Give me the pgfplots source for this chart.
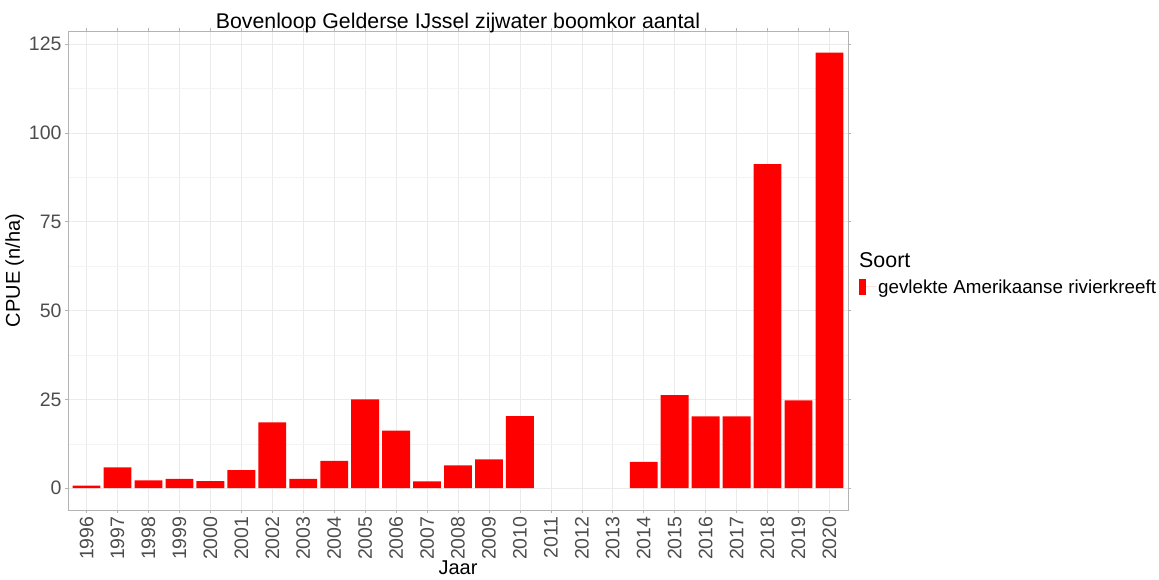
\documentclass[border=0pt]{standalone}
\usepackage{pgfplots}
\pgfplotsset{compat=1.18}
\usepackage{fontspec}
\setmainfont{Liberation Sans}
\definecolor{tickgray}{HTML}{4D4D4D}
\definecolor{gridmaj}{HTML}{EBEBEB}
\definecolor{gridmin}{HTML}{F4F4F4}
\definecolor{bordergray}{HTML}{B3B3B3}
\begin{document}
\begin{tikzpicture}
\begin{axis}[
  scale only axis,
  width=780pt, height=479pt,
  xmin=-0.6, xmax=24.6,
  ymin=-6.13, ymax=128.7,
  clip mode=individual,
  xtick={0,1,2,3,4,5,6,7,8,9,10,11,12,13,14,15,16,17,18,19,20,21,22,23,24},
  xticklabels={1996,1997,1998,1999,2000,2001,2002,2003,2004,2005,2006,2007,2008,2009,2010,2011,2012,2013,2014,2015,2016,2017,2018,2019,2020},
  x tick label style={rotate=90, anchor=east, font=\fontsize{19.5}{19.5}\selectfont, text=tickgray},
  ytick={0,25,50,75,100,125},
  minor ytick={12.5,37.5,62.5,87.5,112.5},
  y tick label style={font=\fontsize{19.5}{19.5}\selectfont, text=tickgray},
  /pgf/number format/assume math mode=true,
  tick align=outside,
  major tick length=3pt,
  minor tick length=0pt,
  tick style={bordergray, line width=0.6pt},
  axis line style={bordergray, line width=0.8pt},
  xmajorgrids, ymajorgrids, yminorgrids,
  major grid style={gridmaj, line width=0.6pt},
  minor grid style={gridmin, line width=0.4pt},
  title={Bovenloop Gelderse IJssel zijwater boomkor aantal},
  title style={font=\fontsize{21.3}{21.3}\selectfont, yshift=-11pt},
  xlabel={Jaar},
  ylabel={CPUE (n/ha)},
  xlabel style={font=\fontsize{20}{20}\selectfont, yshift=6pt},
  ylabel style={font=\fontsize{20}{20}\selectfont, yshift=-2pt},
  legend style={at={(1.014,0.4656)}, anchor=west, draw=none, fill=none,
    font=\fontsize{18.8}{18.8}\selectfont, inner sep=0pt, row sep=0pt},
  legend cell align=left,
  legend image code/.code={\fill[red] (0pt,-8pt) rectangle (7pt,8pt); \path (0pt,0pt) -- (17pt,0pt);},
]
\addplot[ybar, bar width=0.9, fill=red, draw=none, bar shift=0] coordinates {
 (0,0.7) (1,5.9) (2,2.2) (3,2.65) (4,2.0) (5,5.1) (6,18.5) (7,2.65) (8,7.7)
 (9,25.0) (10,16.2) (11,1.9) (12,6.4) (13,8.1) (14,20.3)
 (18,7.4) (19,26.2) (20,20.2) (21,20.2) (22,91.2) (23,24.7) (24,122.6)
};
\addlegendentry{gevlekte Amerikaanse rivierkreeft}
\node[anchor=base west, font=\fontsize{21.4}{21.4}\selectfont, inner sep=0pt] at (rel axis cs:1.0141,0.5073) {Soort};
\end{axis}
\path[use as bounding box] ([shift={(-68pt,-70pt)}]current axis.south west) rectangle ([shift={(311pt,31pt)}]current axis.north east);
\end{tikzpicture}
\end{document}
